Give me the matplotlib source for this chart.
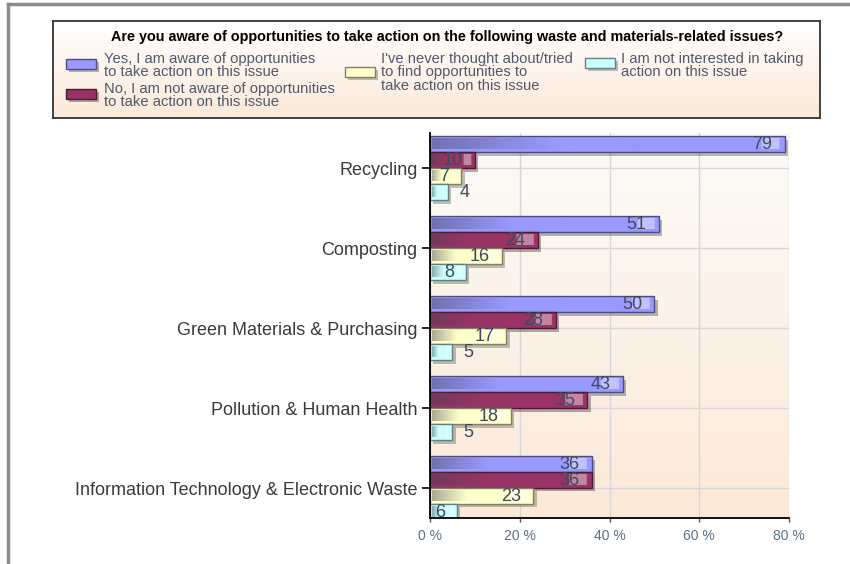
import numpy as np
import matplotlib
matplotlib.use("Agg")
import matplotlib.pyplot as plt
import matplotlib.patheffects as pe
from matplotlib.colors import to_rgb
from matplotlib.patches import Rectangle
from matplotlib.lines import Line2D

plt.rcParams['font.family'] = ['Liberation Sans', 'DejaVu Sans']

title = "Are you aware of opportunities to take action on the following waste and materials-related issues?"
categories = ["Recycling", "Composting", "Green Materials & Purchasing",
              "Pollution & Human Health", "Information Technology & Electronic Waste"]
series_names = ["Yes, I am aware of opportunities\nto take action on this issue",
                "No, I am not aware of opportunities\nto take action on this issue",
                "I've never thought about/tried\nto find opportunities to\ntake action on this issue",
                "I am not interested in taking\naction on this issue"]
aware = [79, 51, 50, 43, 36]
not_aware = [10, 24, 28, 35, 36]
never_thought = [7, 16, 17, 18, 23]
not_interested = [4, 8, 5, 5, 6]
x_ticks = [0, 20, 40, 60, 80]
x_labels = ["0 %", "20 %", "40 %", "60 %", "80 %"]

series = [aware, not_aware, never_thought, not_interested]
colors = ["#9999ff", "#993366", "#ffffcc", "#ccffff"]
label_color = "#3d4a5c"


def mix(c1, c2, t):
    a = np.array(to_rgb(c1))
    b = np.array(to_rgb(c2))
    return a * (1 - t) + b * t


def bar_gradient(color, width, n=200):
    # dark on the left fading into the base colour, light strip near the end
    base = np.array(to_rgb(color))
    dark = mix(color, "#404050", 0.45)
    light = mix(color, "#ffffff", 0.4)
    xs = np.linspace(0, width, n)
    img = np.zeros((1, n, 3))
    for i, x in enumerate(xs):
        t = x / max(width, 1e-9)
        if t < 0.35:
            c = dark + (base - dark) * (t / 0.35)
        else:
            c = base
        d_end = width - x
        if 0.6 < d_end < min(4.5, width * 0.25):
            c = light
        img[0, i] = c
    return img


fig = plt.figure(figsize=(8.5, 5.64), dpi=100)

# outer frame
fig.add_artist(Line2D([8 / 850, 8 / 850], [0, 1 - 4 / 564], transform=fig.transFigure,
                      color="#8c8c8c", lw=2.5))
fig.add_artist(Line2D([8 / 850, 1], [1 - 4 / 564, 1 - 4 / 564], transform=fig.transFigure,
                      color="#8c8c8c", lw=2.5))

ax = fig.add_axes([430 / 850, 46 / 564, 359 / 850, 385 / 564])

# plot background gradient
bg_img = np.zeros((100, 1, 3))
for i in range(100):
    bg_img[i, 0] = mix("#fdfbf8", "#fbe9d8", i / 99)
ax.imshow(bg_img, extent=[0, 1, 0, 1], transform=ax.transAxes, aspect="auto", zorder=0)

y = np.arange(len(categories))
h = 0.2
offsets = [-0.3, -0.1, 0.1, 0.3]

for vals, col, off in zip(series, colors, offsets):
    edge = mix(col, "#000000", 0.5)
    bars = ax.barh(y + off, vals, height=h, color=col, edgecolor=edge, lw=1, zorder=3)
    for b, v in zip(bars, vals):
        b.set_path_effects([pe.SimplePatchShadow(offset=(2.5, -2.5), alpha=0.35), pe.Normal()])
        x0, y0 = b.get_x(), b.get_y()
        w, hh = b.get_width(), b.get_height()
        ax.imshow(bar_gradient(col, w - 0.8), extent=[x0 + 0.4, x0 + w - 0.4, y0 + hh - 0.035, y0 + 0.035],
                  aspect="auto", zorder=3.5, interpolation="bilinear")
        if v >= 6:
            ax.text(v - 2.7, y0 + hh / 2, str(v), ha="right", va="center", fontsize=13,
                    color=label_color, zorder=5)
        else:
            ax.text(v + 2.5, y0 + hh / 2, str(v), ha="left", va="center", fontsize=13,
                    color=label_color, zorder=5)

ax.set_xlim(0, 80)
ax.set_ylim(4.375, -0.44)
ax.set_xticks(x_ticks)
ax.set_xticklabels(x_labels, fontsize=10, color="#5a7088")
ax.set_yticks(y)
ax.set_yticklabels(categories, fontsize=13, color="#3a3a3a")
ax.tick_params(axis="y", length=6, width=1.2, color="black", pad=3)
ax.tick_params(axis="x", length=3, width=1, color="#555555", pad=5)
ax.grid(True, color="#d6d6d6", lw=1)
ax.set_axisbelow(True)
for s in ["top", "right"]:
    ax.spines[s].set_visible(False)
for s in ["left", "bottom"]:
    ax.spines[s].set_color("black")
    ax.spines[s].set_linewidth(1.3)
    ax.spines[s].set_zorder(6)

# legend box
lg = fig.add_axes([53 / 850, (564 - 118) / 564, 767 / 850, 97 / 564])
lg_img = np.zeros((100, 1, 3))
for i in range(100):
    lg_img[i, 0] = mix("#ffffff", "#fbe9d8", i / 99)
lg.imshow(lg_img, extent=[0, 1, 0, 1], aspect="auto", zorder=0)
lg.set_xlim(0, 1)
lg.set_ylim(0, 1)
lg.set_xticks([])
lg.set_yticks([])
for s in lg.spines.values():
    s.set_color("#333333")
    s.set_linewidth(1.3)


def px_x(px):
    return (px - 53) / 767


def px_y(py):
    return 1 - (py - 21) / 97


lg.text(px_x(447), px_y(37.5), title, ha="center", va="center", fontsize=10.4,
        fontweight="bold", color="black")

swatch_x = [66, 66, 345, 585]
swatch_y = [59, 89, 67, 58]
text_x = [104, 104, 381, 621]
text_y = [51.5, 81.5, 51.5, 51.5]
for name, col, sx, sy, tx, ty in zip(series_names, colors, swatch_x, swatch_y, text_x, text_y):
    r = Rectangle((px_x(sx), px_y(sy + 10)), 30 / 767, 10 / 97, facecolor=col,
                  edgecolor=mix(col, "#000000", 0.5), lw=1, zorder=2)
    r.set_path_effects([pe.SimplePatchShadow(offset=(2, -2), alpha=0.35), pe.Normal()])
    lg.add_patch(r)
    lg.text(px_x(tx), px_y(ty), name, ha="left", va="top", fontsize=10.6, color="#50586a",
            linespacing=0.98)

fig.savefig("out.png", dpi=100)
